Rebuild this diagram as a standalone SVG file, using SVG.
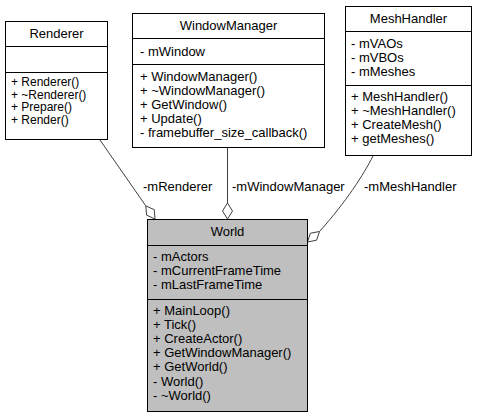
<svg xmlns="http://www.w3.org/2000/svg" width="479" height="419" viewBox="0 0 479 419">
<style>
text{font-family:"Liberation Sans",Arial,Helvetica,sans-serif;font-size:13px;fill:#000}
.t{text-anchor:middle}
.sm{font-size:12px}
.box{fill:#fff;stroke:#000;stroke-width:1}
.sel{fill:#bfbfbf;stroke:#000;stroke-width:1}
.ln{stroke:#000;stroke-width:1}
.edge{fill:none;stroke:#404040;stroke-width:1}
.dia{fill:#fff;stroke:#404040;stroke-width:1}
</style>
<rect width="479" height="419" fill="#fff"/>
<g id="connectors">
<path class="edge" d="M100,140 L145.8,205.9"/>
<polygon class="dia" points="155,219 146.55,215.1 145.8,205.9 154.25,209.7"/>
<path class="edge" d="M227.5,148 L227.5,203"/>
<polygon class="dia" points="227.5,219 222.5,211 227.5,203 232.5,211"/>
<path class="edge" d="M373,156 C364,174 346,202 319.5,231.5"/>
<polygon class="dia" points="307.5,242 310.4,233.2 319.5,231.5 316.6,240.2"/>
<text x="143" y="191">-mRenderer</text>
<text x="232" y="191">-mWindowManager</text>
<text x="364" y="191">-mMeshHandler</text>
</g>
<g id="Renderer">
<rect class="box" x="5.5" y="21.5" width="102" height="118"/>
<line class="ln" x1="5.5" y1="46.5" x2="107.5" y2="46.5"/>
<line class="ln" x1="5.5" y1="72.5" x2="107.5" y2="72.5"/>
<text class="t" x="56.5" y="38">Renderer</text>
<text class="sm" x="11" y="86">+ Renderer()</text>
<text class="sm" x="11" y="98.5">+ ~Renderer()</text>
<text class="sm" x="11" y="111">+ Prepare()</text>
<text class="sm" x="11" y="123.5">+ Render()</text>
</g>
<g id="WindowManager">
<rect class="box" x="132.5" y="13.5" width="192" height="134"/>
<line class="ln" x1="132.5" y1="38.5" x2="324.5" y2="38.5"/>
<line class="ln" x1="132.5" y1="64.5" x2="324.5" y2="64.5"/>
<text class="t" x="228.5" y="30">WindowManager</text>
<text x="140" y="55.5">- mWindow</text>
<text x="140" y="80.5">+ WindowManager()</text>
<text x="140" y="94.5">+ ~WindowManager()</text>
<text x="140" y="108.5">+ GetWindow()</text>
<text x="140" y="122.5">+ Update()</text>
<text x="140" y="136.5">- framebuffer_size_callback()</text>
</g>
<g id="MeshHandler">
<rect class="box" x="345.5" y="6.5" width="126" height="149"/>
<line class="ln" x1="345.5" y1="31.5" x2="471.5" y2="31.5"/>
<line class="ln" x1="345.5" y1="85.5" x2="471.5" y2="85.5"/>
<text class="t" x="408.5" y="23">MeshHandler</text>
<text x="351" y="48">- mVAOs</text>
<text x="351" y="62">- mVBOs</text>
<text x="351" y="76">- mMeshes</text>
<text x="351" y="101">+ MeshHandler()</text>
<text x="351" y="115">+ ~MeshHandler()</text>
<text x="351" y="129">+ CreateMesh()</text>
<text x="351" y="143">+ getMeshes()</text>
</g>
<g id="World">
<rect class="sel" x="147.5" y="219.5" width="160" height="192"/>
<line class="ln" x1="147.5" y1="245.5" x2="307.5" y2="245.5"/>
<line class="ln" x1="147.5" y1="299.5" x2="307.5" y2="299.5"/>
<text class="t" x="227.5" y="236">World</text>
<text x="153" y="261">- mActors</text>
<text x="153" y="275">- mCurrentFrameTime</text>
<text x="153" y="289">- mLastFrameTime</text>
<text x="153" y="315">+ MainLoop()</text>
<text x="153" y="329">+ Tick()</text>
<text x="153" y="343">+ CreateActor()</text>
<text x="153" y="357">+ GetWindowManager()</text>
<text x="153" y="371">+ GetWorld()</text>
<text x="153" y="385.5">- World()</text>
<text x="153" y="399.5">- ~World()</text>
</g>
</svg>
